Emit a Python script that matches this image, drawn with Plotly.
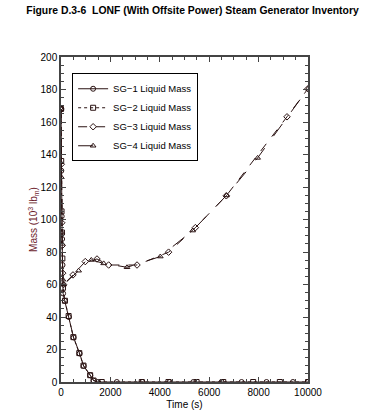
import plotly.graph_objects as go

title_text = "Figure D.3-6  LONF (With Offsite Power) Steam Generator Inventory"
series_names = ["SG\u22121 Liquid Mass", "SG\u22122 Liquid Mass", "SG\u22123 Liquid Mass", "SG\u22124 Liquid Mass"]

# SG-1 (lower branch, circles)
t_sg1 = [0, 12, 28, 45, 62, 85, 150, 320, 510, 755, 917, 1187, 1322, 1500, 2260, 3300, 4400, 5360, 6500, 7310, 8320, 9390, 10000]
m_sg1 = [168, 130, 102, 88, 72, 54.5, 50, 40, 27.4, 17.5, 9.9, 4.1, 0.8, 0, 0, 0, 0, 0, 0, 0, 0, 0, 0]

# SG-2 (lower branch, squares)
t_sg2 = [0, 8, 22, 38, 55, 80, 160, 308, 500, 740, 910, 1180, 1320, 1650, 3270, 4350, 5490, 6570, 7780, 8860, 10000]
m_sg2 = [168, 136, 105, 92, 76, 58, 50, 40.6, 27.6, 17.8, 10.1, 4.2, 0.9, 0, 0, 0, 0, 0, 0, 0, 0]

# SG-3 (upper branch, diamonds)
t_sg3 = [0, 10, 30, 50, 70, 100, 485, 983, 1457, 1930, 3077, 4356, 5440, 6692, 9150, 10000]
m_sg3 = [168, 134, 98, 84, 67, 60, 65.9, 74.1, 75.7, 72, 72, 79.9, 95, 114.6, 163.2, 180.5]

# SG-4 (upper branch, triangles)
t_sg4 = [0, 15, 35, 48, 75, 110, 713, 1227, 1727, 2672, 4020, 5330, 6700, 7960, 10000]
m_sg4 = [168, 126, 92, 85, 63, 60, 68.5, 75.1, 73, 70.6, 77.2, 93.2, 114.8, 137.9, 180.5]

y_ticks = [0, 20, 40, 60, 80, 100, 120, 140, 160, 180, 200]
x_ticks = [0, 2000, 4000, 6000, 8000, 10000]

line_color = "#2a1212"
styles = [
    dict(dash="solid", symbol="circle-open"),
    dict(dash="dot", symbol="square-open"),
    dict(dash="dash", symbol="diamond-open"),
    dict(dash="longdash", symbol="triangle-up-open"),
]
data = [(t_sg1, m_sg1), (t_sg2, m_sg2), (t_sg3, m_sg3), (t_sg4, m_sg4)]

fig = go.Figure()
for name, (t, m), st in zip(series_names, data, styles):
    fig.add_trace(go.Scatter(
        x=t, y=m, name=name, mode="lines+markers",
        line=dict(color=line_color, width=1, dash=st["dash"]),
        marker=dict(symbol=st["symbol"], size=5, color=line_color, line=dict(width=1, color=line_color)),
    ))

axis_common = dict(
    showline=True, linecolor="#444", linewidth=1.5, mirror="ticks",
    ticks="inside", ticklen=5, tickcolor="#444", showgrid=False, zeroline=False,
    tickfont=dict(family="Liberation Sans, Arial", size=10, color="black"),
    automargin=False, tickformat="d",
)

fig.update_layout(
    width=366, height=420,
    margin=dict(l=61, r=58, t=57, b=38),
    paper_bgcolor="white", plot_bgcolor="white",
    title=dict(text="<b>" + title_text + "</b>", x=0.526, xanchor="center", y=0.976, yanchor="middle",
               font=dict(family="Liberation Sans, Arial", size=10.4, color="black")),
    xaxis=dict(range=[0, 10000], tickvals=x_ticks,
               minor=dict(dtick=500, ticks="inside", ticklen=3, tickcolor="#444"),
               title=dict(text="Time (s)", standoff=4, font=dict(family="Liberation Sans, Arial", size=10, color="black")),
               **axis_common),
    yaxis=dict(range=[0, 200], tickvals=y_ticks,
               minor=dict(dtick=5, ticks="inside", ticklen=3, tickcolor="#444"),
               title=dict(text="Mass (10<sup>3</sup> lb<sub>m</sub>)", standoff=1,
                          font=dict(family="Liberation Sans, Arial", size=10, color="#6b1a2a")),
               **axis_common),
    legend=dict(x=0.045, y=0.95, xanchor="left", yanchor="top",
                bgcolor="white", bordercolor="black", borderwidth=1,
                font=dict(family="Liberation Sans, Arial", size=9.5, color="black"),
                tracegroupgap=0, itemwidth=30),
    showlegend=True,
)

fig.write_html("out.html", config={"displayModeBar": False},
               post_script="document.body.style.margin='0';")
